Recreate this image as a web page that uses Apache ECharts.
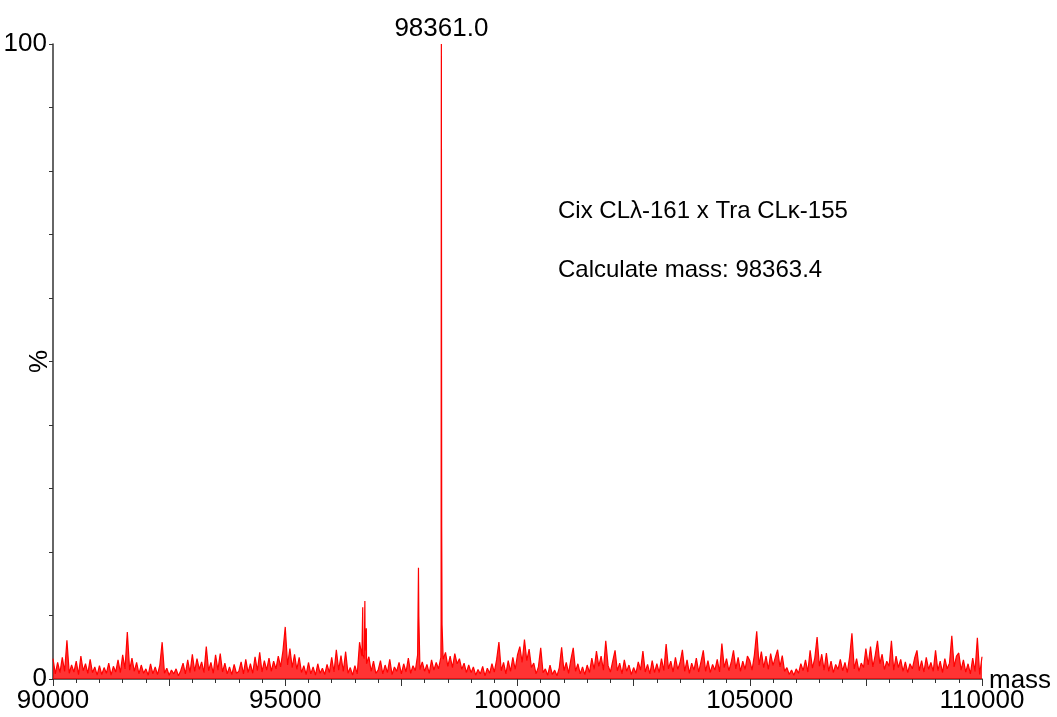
<!DOCTYPE html>
<html>
<head>
<meta charset="utf-8">
<title>Mass spectrum</title>
<script src="https://cdn.jsdelivr.net/npm/echarts@6/dist/echarts.min.js"></script>
<style>
  html, body { margin: 0; padding: 0; background: #fff; }
  #chart { width: 1057px; height: 717px; }
</style>
</head>
<body>
<div id="chart"></div>
<script>
// baseline noise, one value every 50 Da from 90000 to 110000 (%)
var noiseStart = 90000;
var noiseStep = 50;
var noiseLevels = [
  // 90000
  3.2, 0.8, 2.6, 1.0, 3.4, 1.2, 6.1, 0.9, 2.2, 1.1, 2.8, 0.7, 3.6, 1.3, 2.4, 0.9, 3.1, 1.0, 1.9, 0.6,
  // 91000
  2.1, 0.7, 1.8, 0.9, 2.5, 0.6, 2.0, 1.1, 3.0, 1.0, 3.8, 1.6, 7.4, 1.4, 3.3, 1.2, 2.6, 0.8, 2.2, 0.9,
  // 92000
  1.6, 0.6, 2.4, 0.8, 1.9, 0.7, 2.2, 5.8, 0.9, 1.7, 0.6, 1.4, 0.8, 1.6, 0.5, 1.3, 2.5, 0.8, 3.0, 1.0,
  // 93000
  3.9, 1.2, 3.2, 1.5, 2.7, 1.0, 5.1, 1.3, 2.6, 0.9, 3.8, 1.4, 4.0, 1.1, 2.5, 0.8, 1.9, 0.7, 2.3, 0.9,
  // 94000
  1.2, 2.7, 0.8, 3.1, 1.0, 2.4, 0.9, 3.5, 1.3, 4.2, 1.1, 2.9, 1.4, 3.3, 1.2, 2.8, 1.6, 3.6, 1.9, 4.4,
  // 95000
  8.2, 2.2, 4.8, 1.8, 3.9, 1.5, 3.4, 1.0, 2.1, 0.7, 2.6, 0.8, 1.9, 0.6, 2.4, 0.9, 1.7, 0.7, 2.3, 1.0,
  // 96000
  3.4, 1.1, 4.6, 1.4, 3.7, 1.2, 4.3, 0.9, 1.8, 0.6, 2.1, 0.8, 5.8, 3.6, 3.2, 2.4, 3.5, 1.2, 2.8, 0.9,
  // 97000
  1.4, 2.9, 0.8, 2.2, 1.0, 3.1, 0.7, 1.9, 1.2, 2.6, 0.8, 2.4, 1.1, 3.3, 0.9, 2.1, 1.3, 3.8, 1.5, 2.7,
  // 98000
  1.2, 2.3, 0.9, 3.0, 1.4, 2.6, 1.6, 3.4, 3.1, 4.2, 2.0, 3.6, 1.8, 4.0, 2.4, 3.2, 1.5, 2.5, 1.0, 2.2,
  // 99000
  1.0, 1.9, 0.6, 1.5, 0.8, 2.0, 0.5, 1.7, 0.9, 2.4, 1.1, 3.0, 5.8, 1.3, 2.6, 0.8, 2.9, 1.2, 3.4, 1.5,
  // 100000
  3.8, 5.1, 2.6, 6.2, 2.9, 4.7, 1.8, 2.5, 0.8, 1.9, 4.9, 1.0, 1.6, 0.6, 2.2, 0.7, 1.4, 0.5, 1.8, 5.0,
  // 101000
  1.3, 2.6, 0.9, 3.1, 4.9, 1.2, 2.4, 0.8, 1.9, 0.7, 2.2, 1.0, 3.3, 1.5, 4.4, 2.0, 3.6, 1.4, 6.0, 2.1,
  // 102000
  1.1, 2.8, 4.5, 1.3, 2.5, 0.8, 3.0, 1.2, 2.2, 0.7, 1.8, 0.9, 2.7, 1.4, 4.4, 1.1, 2.3, 0.8, 2.9, 1.0,
  // 103000
  2.4, 1.0, 3.2, 1.3, 5.5, 1.6, 2.8, 1.1, 3.4, 1.5, 2.6, 4.6, 1.2, 3.0, 0.9, 2.5, 1.4, 3.3, 1.1, 2.7,
  // 104000
  4.5, 1.2, 2.9, 1.0, 2.3, 1.4, 3.1, 1.1, 5.6, 1.8, 3.2, 1.3, 2.6, 4.5, 1.6, 3.4, 1.2, 2.8, 1.5, 3.6,
  // 105000
  2.9, 1.4, 3.8, 7.5, 2.2, 4.3, 1.8, 3.6, 1.5, 4.0, 2.1, 3.4, 4.6, 1.9, 3.7, 1.2, 1.8, 0.7, 1.4, 0.6,
  // 106000
  1.6, 0.9, 2.4, 1.3, 3.0, 1.1, 4.5, 1.7, 3.3, 6.6, 2.0, 3.9, 1.4, 4.1, 1.2, 2.8, 1.0, 2.3, 1.5, 3.1,
  // 107000
  1.3, 2.6, 1.0, 3.5, 7.2, 1.6, 3.2, 1.2, 2.5, 1.8, 4.8, 2.2, 5.1, 1.9, 3.7, 6.0, 2.4, 3.9, 1.5, 2.8,
  // 108000
  2.0, 6.0, 1.4, 3.6, 1.8, 3.1, 1.2, 2.7, 1.0, 2.4, 1.6, 3.3, 4.5, 1.3, 2.9, 1.1, 3.4, 1.5, 2.6, 1.2,
  // 109000
  4.5, 1.3, 2.8, 1.0, 3.2, 1.6, 2.5, 6.8, 1.9, 3.6, 4.1, 1.4, 3.0, 1.1, 2.4, 0.8, 3.3, 1.2, 6.5, 0.7,
  // 110000
  3.5
];

// real peaks [mass, %]
var peaks = [
  [96668, 11.3],
  [96673, 3.8],
  [96714, 12.3],
  [96720, 4.5],
  [96746, 8.0],
  [97868, 17.5],
  [97876, 9.8],
  [98355, 9.0],
  [98359, 89.0],
  [98361, 100],
  [98368, 24.0],
  [98376, 8.5]
];

var topPeakMass = 98361;
var topPeakLabel = "98361.0";
var noteLines = ["Cix CL\u03bb-161 x Tra CL\u03ba-155", "Calculate mass: 98363.4"];

// merge noise + peaks by mass
var spectrum = [];
for (var i = 0; i < noiseLevels.length; i++) {
  spectrum.push([noiseStart + i * noiseStep, noiseLevels[i]]);
}
spectrum = spectrum.concat(peaks).sort(function (a, b) { return a[0] - b[0]; });

var font = "Liberation Sans, Arial, sans-serif";
var axisColor = "#333";

var chart = echarts.init(document.getElementById("chart"));
chart.setOption({
  animation: false,
  grid: { left: 53, right: 75, top: 44, bottom: 38, containLabel: false, outerBoundsMode: "none" },
  xAxis: {
    type: "value",
    min: 90000,
    max: 110000,
    interval: 2500,
    axisLine: { lineStyle: { color: axisColor, width: 1.5 } },
    axisTick: { show: true, length: 7, lineStyle: { color: axisColor } },
    minorTick: { show: true, splitNumber: 5, length: 4, lineStyle: { color: axisColor } },
    axisLabel: {
      color: "#000",
      fontSize: 26,
      fontFamily: font,
      margin: 9,
      formatter: function (v) { return v % 5000 === 0 ? String(v) : ""; }
    },
    splitLine: { show: false }
  },
  yAxis: {
    type: "value",
    min: 0,
    max: 100,
    interval: 10,
    name: "%",
    nameLocation: "middle",
    nameRotate: 90,
    nameGap: 0,
    nameMoveOverlap: false,
    nameTextStyle: { color: "#000", fontSize: 26, fontFamily: font },
    axisLine: { show: true, lineStyle: { color: axisColor, width: 1.5 } },
    axisTick: { show: true, length: 4, lineStyle: { color: axisColor } },
    axisLabel: {
      color: "#000",
      fontSize: 26,
      fontFamily: font,
      margin: 6,
      formatter: function (v) { return v === 0 || v === 100 ? String(v) : ""; }
    },
    splitLine: { show: false }
  },
  graphic: [
    // x axis title sits right of the axis end
    { type: "text", left: 989, top: 668, style: { text: "mass", fill: "#000", font: "26px " + font } },
    { type: "text", left: 558, top: 199, style: { text: noteLines[0], fill: "#000", font: "24px " + font } },
    { type: "text", left: 558, top: 258, style: { text: noteLines[1], fill: "#000", font: "24px " + font } }
  ],
  series: [
    {
      type: "line",
      data: spectrum,
      showSymbol: false,
      sampling: null,
      lineStyle: { color: "#ff0000", width: 1.2 },
      areaStyle: { color: "#ff0000", opacity: 0.8 },
      itemStyle: { color: "#ff0000" },
      markPoint: {
        symbol: "circle",
        symbolSize: 0,
        label: { show: true, position: "top", distance: 2, color: "#000", fontSize: 26, fontFamily: font, formatter: topPeakLabel },
        data: [{ coord: [topPeakMass, 100] }]
      }
    }
  ]
});
</script>
</body>
</html>
